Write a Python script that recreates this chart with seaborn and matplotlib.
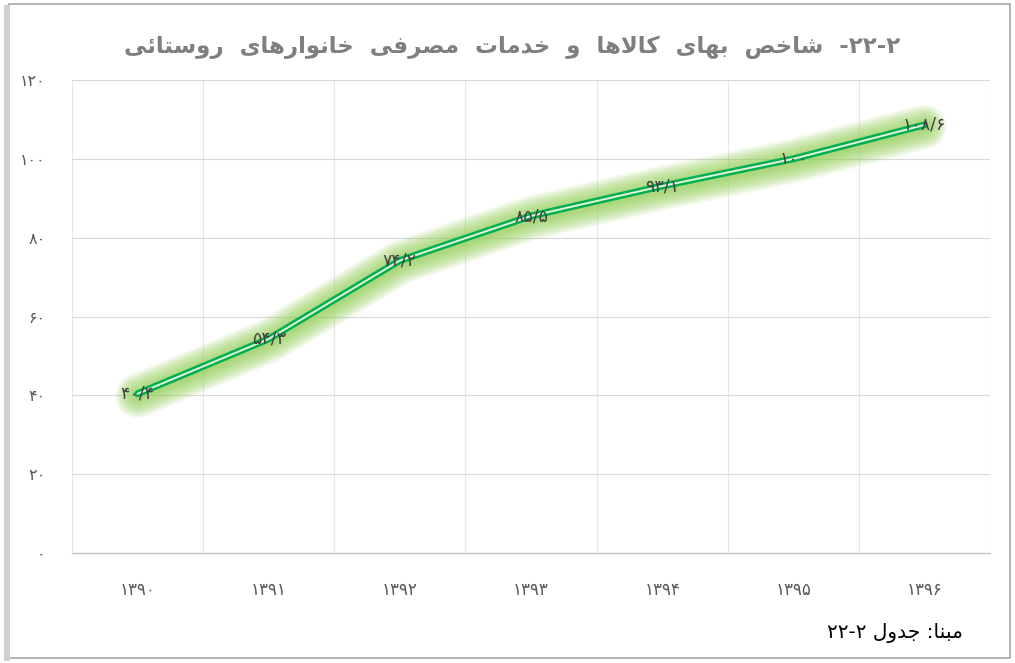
import numpy as np
import pandas as pd
import matplotlib
matplotlib.use('Agg')
import matplotlib.pyplot as plt
import matplotlib.transforms as mtransforms
import seaborn as sns
from matplotlib.patches import Rectangle
from matplotlib.ticker import FixedLocator

# data
years = ['1390', '1391', '1392', '1393', '1394', '1395', '1396']
index_values = [40.4, 54.3, 74.2, 85.5, 93.1, 100, 108.6]
y_ticks = [0, 20, 40, 60, 80, 100, 120]

title_words = 'شاخص بهای کالاها و خدمات مصرفی خانوارهای روستائی'
title_number = '  -۲۲-۲'
source_words = 'مبنا: جدول'
source_number = '۲۲-۲ '

# --- tiny arabic/persian shaper (matplotlib has no bidi / shaping) ---
DUAL = {
    'ب': (0xFE8F, 0xFE90, 0xFE91, 0xFE92),
    'ت': (0xFE95, 0xFE96, 0xFE97, 0xFE98),
    'ج': (0xFE9D, 0xFE9E, 0xFE9F, 0xFEA0),
    'خ': (0xFEA5, 0xFEA6, 0xFEA7, 0xFEA8),
    'س': (0xFEB1, 0xFEB2, 0xFEB3, 0xFEB4),
    'ش': (0xFEB5, 0xFEB6, 0xFEB7, 0xFEB8),
    'ص': (0xFEB9, 0xFEBA, 0xFEBB, 0xFEBC),
    'ف': (0xFED1, 0xFED2, 0xFED3, 0xFED4),
    'ک': (0xFB8E, 0xFB8F, 0xFB90, 0xFB91),
    'ل': (0xFEDD, 0xFEDE, 0xFEDF, 0xFEE0),
    'م': (0xFEE1, 0xFEE2, 0xFEE3, 0xFEE4),
    'ن': (0xFEE5, 0xFEE6, 0xFEE7, 0xFEE8),
    'ه': (0xFEE9, 0xFEEA, 0xFEEB, 0xFEEC),
    'ی': (0xFBFC, 0xFBFD, 0xFBFE, 0xFBFF),
    'ئ': (0xFE89, 0xFE8A, 0xFE8B, 0xFE8C),
}
RIGHT = {
    'ا': (0xFE8D, 0xFE8E),
    'د': (0xFEA9, 0xFEAA),
    'ر': (0xFEAD, 0xFEAE),
    'و': (0xFEED, 0xFEEE),
}


def shape_rtl(text):
    out = []
    i = 0
    n = len(text)
    while i < n:
        c = text[i]
        prev = text[i - 1] if i > 0 else ''
        nxt = text[i + 1] if i + 1 < n else ''
        joins_prev = prev in DUAL
        if c == 'ل' and nxt == 'ا':
            out.append(chr(0xFEFC if joins_prev else 0xFEFB))
            i += 2
            continue
        if c in DUAL:
            joins_next = nxt in DUAL or nxt in RIGHT
            iso, fin, ini, med = DUAL[c]
            if joins_prev and joins_next:
                out.append(chr(med))
            elif joins_prev:
                out.append(chr(fin))
            elif joins_next:
                out.append(chr(ini))
            else:
                out.append(chr(iso))
        elif c in RIGHT:
            iso, fin = RIGHT[c]
            out.append(chr(fin if joins_prev else iso))
        else:
            out.append(c)
        i += 1
    return ''.join(reversed(out))


def to_fa(s):
    return str(s).translate(str.maketrans('0123456789', '۰۱۲۳۴۵۶۷۸۹'))


df = pd.DataFrame({'year': [to_fa(y) for y in years], 'value': index_values})

sns.set_theme(style='white')
plt.rcParams['font.family'] = ['DejaVu Sans']

fig = plt.figure(figsize=(10.15, 6.63), dpi=100)
ax = fig.add_axes([0.0709, 0.1659, 0.9045, 0.7134])

# soft glow behind the line, nudged a little downward
shift = mtransforms.offset_copy(ax.transData, fig=fig, x=0, y=-2, units='dots')
for lw in np.arange(32, 5, -2):
    sns.lineplot(data=df, x='year', y='value', ax=ax, color='#8fcf50',
                 linewidth=lw, alpha=0.085, legend=False,
                 solid_capstyle='round', solid_joinstyle='round')
    ax.lines[-1].set_transform(shift)
# double green line
sns.lineplot(data=df, x='year', y='value', ax=ax, color='#00b050',
             linewidth=5.0, legend=False, solid_joinstyle='round')
sns.lineplot(data=df, x='year', y='value', ax=ax, color='#e4f4da',
             linewidth=1.4, legend=False, solid_joinstyle='round')

for i, v in enumerate(index_values):
    lab = to_fa(('%g' % v).replace('.', '/'))
    ax.text(i, v, lab, ha='center', va='center', fontsize=12.5,
            color='#404040', zorder=5)

ax.set_xlim(-0.5, len(years) - 0.5)
ax.set_ylim(0, 120)
ax.set_yticks(y_ticks)
ax.set_yticklabels([to_fa(t) for t in y_ticks])
ax.xaxis.set_minor_locator(FixedLocator(np.arange(-0.5, len(years), 1)))
ax.grid(axis='y', which='major', color='#d9d9d9', linewidth=0.8)
ax.grid(axis='x', which='minor', color='#e6e6e6', linewidth=0.8)
ax.set_axisbelow(True)
ax.tick_params(axis='both', which='both', length=0)
ax.tick_params(axis='y', pad=19, labelsize=11.5, labelcolor='#595959')
ax.tick_params(axis='x', pad=20, labelsize=12, labelcolor='#595959')
ax.set_xlabel('')
ax.set_ylabel('')
for s in ['top', 'right', 'left']:
    ax.spines[s].set_visible(False)
ax.spines['bottom'].set_color('#bfbfbf')
ax.spines['bottom'].set_linewidth(0.9)

title_vis = shape_rtl(title_words).replace(' ', '  ') + title_number
fig.text(0.505, 0.929, title_vis, ha='center', va='center', fontsize=16.5,
         fontweight='bold', color='#7f7f7f')
fig.text(0.949, 0.046, source_number + shape_rtl(source_words),
         ha='right', va='center', fontsize=14.5, color='#000000')

# frame around the chart
fig.patches.append(Rectangle((0.009, 0.008), 0.986, 0.986, transform=fig.transFigure,
                             fill=False, edgecolor='#a6a6a6', linewidth=1.2))
fig.patches.append(Rectangle((0.004, 0.003), 0.006, 0.99, transform=fig.transFigure,
                             facecolor='#d0d0d0', edgecolor='none'))

fig.savefig('out.png', dpi=100)
